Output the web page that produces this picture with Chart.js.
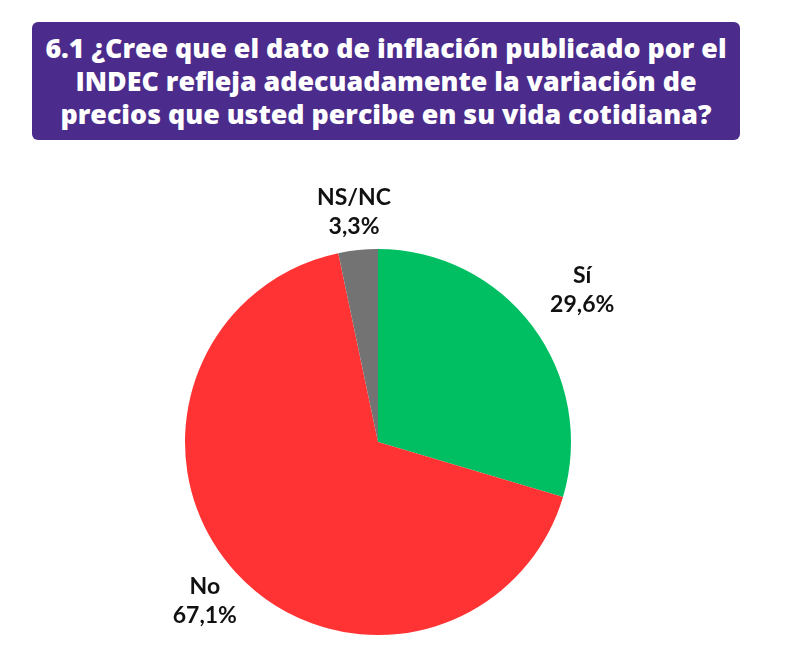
<!DOCTYPE html>
<html>
<head>
<meta charset="utf-8">
<script src="https://cdn.jsdelivr.net/npm/chart.js@4"></script>
<style>
    body { margin: 0; background: #fff; width: 785px; height: 654px; overflow: hidden; position: relative; }
    #title {
        position: absolute; left: 32px; top: 22px; width: 708px; height: 118px;
        background: #4b2c8c; border-radius: 6px; color: #fff;
        font-family: "Open Sans", sans-serif; font-weight: 800; font-size: 26.8px;
        line-height: 33px; text-align: center; box-sizing: border-box; padding-top: 9px;
        white-space: nowrap;
    }
    #wrap { position: absolute; left: 0; top: 0; width: 785px; height: 654px; }
</style>
</head>
<body>
<div id="title">6.1 ¿Cree que el dato de inflación publicado por el<br>INDEC refleja adecuadamente la variación de<br>precios que usted percibe en su vida cotidiana?</div>
<div id="wrap"><canvas id="pie"></canvas></div>
<script>
const categories = ["Sí", "No", "NS/NC"];
const values = [29.6, 67.1, 3.3];
const valueLabels = ["29,6%", "67,1%", "3,3%"];
const colors = ["#00bf63", "#ff3333", "#737373"];

// labels drawn outside each slice along its middle angle
const outsideLabels = {
    id: 'outsideLabels',
    afterDatasetsDraw(chart, args, opts) {
        const ctx = chart.ctx;
        const meta = chart.getDatasetMeta(0);
        ctx.save();
        ctx.fillStyle = '#111';
        ctx.font = 'bold 23px Lato';
        ctx.textAlign = 'center';
        ctx.textBaseline = 'middle';
        meta.data.forEach((arc, i) => {
            const p = arc.getProps(['x', 'y', 'startAngle', 'endAngle', 'outerRadius'], true);
            const mid = (p.startAngle + p.endAngle) / 2;
            const r = p.outerRadius * opts.dist[i];
            const x = p.x + Math.cos(mid) * r;
            const y = p.y + Math.sin(mid) * r;
            ctx.fillText(categories[i], x, y - 14.5);
            ctx.fillText(valueLabels[i], x, y + 14.5);
        });
        ctx.restore();
    }
};

new Chart(document.getElementById('pie'), {
    type: 'pie',
    data: {
        labels: categories,
        datasets: [{
            data: values,
            backgroundColor: colors,
            borderWidth: 0
        }]
    },
    options: {
        responsive: true,
        maintainAspectRatio: false,
        animation: false,
        layout: {
            padding: { left: 185, right: 214, top: 249, bottom: 19 }
        },
        plugins: {
            legend: { display: false },
            tooltip: { enabled: false },
            outsideLabels: { dist: [1.32, 1.22, 1.2] }
        }
    },
    plugins: [outsideLabels]
});
</script>
</body>
</html>
